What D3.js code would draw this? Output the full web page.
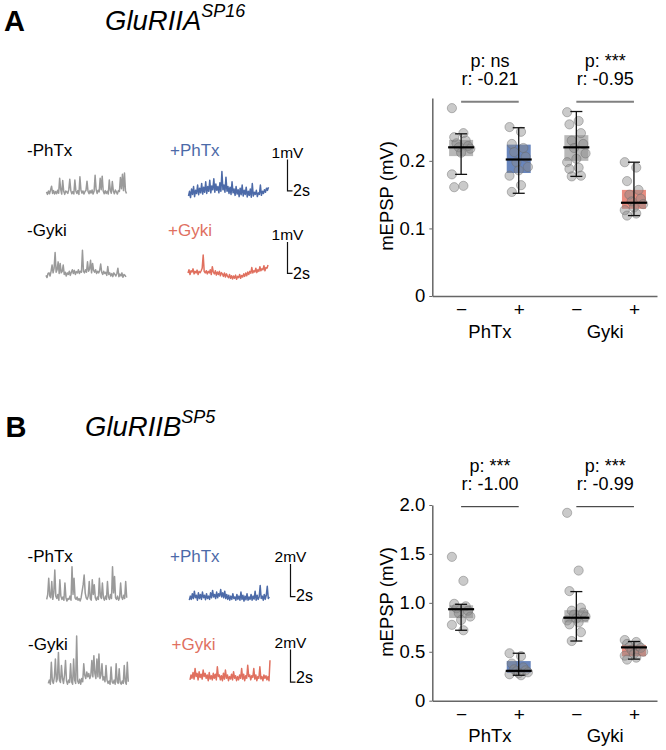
<!DOCTYPE html>
<html>
<head>
<meta charset="utf-8">
<script src="https://cdn.jsdelivr.net/npm/d3@7"></script>
<style>
  html, body { margin: 0; padding: 0; background: #fff; }
  svg { display: block; }
</style>
</head>
<body>
<svg id="chart" width="666" height="750"></svg>
<script>
// ---------------- DATA ----------------
const conditionLabels = ["\u2212", "+", "\u2212", "+"];
const groupLabels = ["PhTx", "Gyki"];

// Panel A (GluRIIA SP16), mEPSP in mV
const A_points = [
  [0.278, 0.241, 0.235, 0.230, 0.226, 0.222, 0.220, 0.218, 0.212, 0.180, 0.163, 0.161],
  [0.250, 0.243, 0.225, 0.219, 0.213, 0.206, 0.198, 0.191, 0.186, 0.178, 0.164, 0.154],
  [0.272, 0.259, 0.254, 0.241, 0.230, 0.225, 0.219, 0.211, 0.203, 0.198, 0.190, 0.188, 0.178, 0.177],
  [0.198, 0.190, 0.170, 0.157, 0.150, 0.144, 0.140, 0.136, 0.131, 0.127, 0.122, 0.119]
];
const A_q1  = [0.207, 0.182, 0.200, 0.129];
const A_med = [0.220, 0.202, 0.220, 0.138];
const A_q3  = [0.231, 0.224, 0.238, 0.157];
const A_wlo = [0.180, 0.152, 0.177, 0.119];
const A_whi = [0.240, 0.249, 0.273, 0.198];
const A_ticks = [0, 0.1, 0.2];
const A_tickLabels = ["0", "0.1", "0.2"];
const A_stats = [["p: ns", "r: -0.21"], ["p: ***", "r: -0.95"]];

// Panel B (GluRIIB SP5)
const B_points = [
  [1.47, 1.225, 0.99, 0.965, 0.945, 0.92, 0.895, 0.86, 0.825, 0.775, 0.72],
  [0.485, 0.455, 0.38, 0.34, 0.32, 0.31, 0.30, 0.29, 0.28, 0.27, 0.26],
  [1.92, 1.33, 1.12, 0.95, 0.92, 0.90, 0.88, 0.86, 0.84, 0.82, 0.80, 0.78, 0.70, 0.61],
  [0.62, 0.60, 0.58, 0.56, 0.55, 0.54, 0.52, 0.50, 0.48, 0.46, 0.44, 0.42]
];
const B_q1  = [0.845, 0.285, 0.800, 0.455];
const B_med = [0.935, 0.305, 0.848, 0.545];
const B_q3  = [0.975, 0.405, 0.925, 0.570];
const B_wlo = [0.720, 0.260, 0.610, 0.425];
const B_whi = [0.985, 0.485, 1.115, 0.605];
const B_ticks = [0, 0.5, 1.0, 1.5, 2.0];
const B_tickLabels = ["0", "0.5", "1.0", "1.5", "2.0"];
const B_stats = [["p: ***", "r: -1.00"], ["p: ***", "r: -0.99"]];

// Example traces (mV, one sample per step)
const traceA_minusPhTx = [0.02,-0.06,0.05,-0.04,0.08,0.20,-0.03,0.06,-0.05,0.03,
 -0.04,0.07,-0.02,0.45,0.10,-0.05,0.38,0.04,-0.06,0.05,
 0.02,-0.03,0.09,0.42,0.06,-0.04,0.03,-0.05,0.40,0.05,
 -0.03,0.06,-0.06,0.50,0.08,-0.02,0.05,-0.05,0.03,0.07,
 0.36,0.04,-0.04,0.06,-0.02,0.08,-0.05,0.04,0.55,0.10,
 -0.03,0.07,0.02,0.45,0.09,0.52,0.05,-0.04,0.06,-0.03,
 0.04,-0.05,0.40,0.07,-0.02,0.35,0.05,-0.04,0.08,0.02,
 -0.05,0.06,0.03,0.48,0.12,0.58,0.06,0.62,0.05,-0.03];
const traceA_plusPhTx = [0.00,0.15,-0.05,0.22,0.05,0.30,-0.02,0.18,0.08,0.35,
 0.04,0.25,0.10,0.40,0.06,0.28,0.12,0.45,0.08,0.30,
 0.15,0.50,0.10,0.32,0.20,0.55,0.12,0.38,0.18,0.30,
 0.10,0.42,0.15,0.78,0.20,0.35,0.12,0.60,0.15,0.30,
 0.08,0.28,0.05,0.45,0.10,0.22,0.02,0.30,0.06,0.20,
 -0.02,0.25,0.04,0.35,0.00,0.18,0.05,0.28,-0.03,0.15,
 0.02,0.22,-0.04,0.40,0.00,0.12,0.05,0.18,-0.02,0.10,
 0.05,0.35,0.02,0.15,0.08,0.20,0.12,0.25,0.18,0.28];
const traceA_minusGyki = [0.02,-0.05,0.08,0.10,0.00,0.15,0.35,0.10,0.25,0.75,
 0.12,0.20,0.45,0.08,0.40,0.10,0.15,0.35,0.05,0.12,
 0.00,0.10,0.05,0.15,0.02,0.12,0.20,0.08,0.18,0.05,
 0.14,0.10,0.20,0.08,0.15,0.12,0.82,0.15,0.10,0.20,
 0.12,0.45,0.15,0.22,0.50,0.10,0.40,0.18,0.12,0.20,
 0.08,0.15,0.10,0.18,0.38,0.12,0.05,0.15,0.08,0.12,
 0.02,0.30,0.05,0.10,0.00,0.08,-0.02,0.10,0.05,0.00,
 0.08,0.25,-0.02,0.06,0.00,0.10,-0.04,0.05,0.02,-0.03];
const traceA_plusGyki = [0.05,0.15,0.00,0.12,0.08,0.18,0.02,0.10,0.05,0.14,
 0.00,0.10,0.06,0.12,0.20,0.62,0.10,0.05,0.12,0.02,
 0.10,0.05,0.15,0.00,0.25,0.08,0.02,0.12,-0.02,0.08,
 0.00,0.10,-0.04,0.06,0.02,-0.06,0.05,-0.08,0.02,-0.05,
 -0.10,0.00,-0.12,-0.04,-0.14,-0.05,-0.12,-0.02,-0.15,-0.06,
 -0.10,0.00,-0.12,-0.03,-0.08,0.02,-0.06,0.05,-0.04,0.08,
 0.00,0.10,0.04,0.22,0.05,0.12,0.08,0.20,0.06,0.15,
 0.10,0.25,0.12,0.18,0.15,0.28,0.12,0.22,0.20,0.30];
const traceB_minusPhTx = [0.10,0.40,1.40,0.30,0.20,1.20,0.10,0.50,1.90,0.30,
 0.15,0.40,0.05,1.30,0.30,0.10,0.25,0.05,1.10,0.20,
 0.00,0.15,0.10,0.30,0.05,2.10,0.40,1.40,0.20,0.10,
 0.25,0.05,0.15,0.00,0.20,0.60,1.00,1.60,0.50,0.20,
 0.10,0.30,1.20,0.15,0.05,1.30,0.40,1.00,0.20,0.05,
 0.25,0.10,1.40,0.30,0.15,1.10,0.20,0.05,0.30,0.10,
 1.20,0.25,0.10,0.40,0.15,2.10,0.50,1.50,0.20,0.10,
 0.30,0.05,0.20,1.10,0.25,0.10,0.35,0.15,1.20,0.20];
const traceB_plusPhTx = [0.05,0.30,0.10,0.45,0.15,0.60,0.20,0.35,0.05,0.50,
 0.15,0.40,0.10,0.55,0.20,0.35,0.08,0.45,0.15,0.30,
 0.10,0.50,0.20,0.65,0.25,0.40,0.15,0.55,0.20,0.45,
 0.30,0.70,0.25,0.50,0.20,0.60,0.15,0.40,0.10,0.35,
 0.05,0.30,0.10,0.45,0.15,0.25,0.05,0.40,0.10,0.30,
 0.05,0.55,0.10,0.35,0.00,0.30,0.08,0.45,0.05,0.25,
 0.10,0.40,0.05,0.30,0.12,0.60,0.05,0.35,0.10,0.25,
 0.95,0.15,0.30,0.05,0.40,0.10,0.35,0.90,0.15,0.25];
const traceB_minusGyki = [0.10,0.30,0.05,1.40,0.25,0.10,0.50,1.60,0.20,0.40,
 2.00,0.30,0.15,1.20,0.40,0.10,0.60,1.50,0.25,0.05,
 0.30,0.15,1.30,0.20,0.05,1.60,0.30,0.10,3.00,0.25,
 0.10,0.35,0.05,0.40,0.20,1.30,0.60,0.40,0.80,0.50,
 0.70,0.40,0.60,1.50,0.50,1.80,0.70,0.40,1.60,0.50,
 1.90,0.40,0.60,1.30,0.30,0.50,0.20,1.20,0.30,0.10,
 0.25,0.05,1.10,0.20,0.10,0.30,0.05,1.30,0.20,0.10,
 1.00,0.15,0.05,0.25,0.10,1.20,0.20,0.05,1.40,0.20];
const traceB_plusGyki = [0.10,0.40,0.20,0.55,0.15,0.80,0.30,0.50,0.10,0.60,
 0.25,0.45,0.15,0.70,0.30,0.50,0.20,0.40,0.05,0.55,
 0.15,0.35,0.10,0.50,0.20,0.45,0.10,0.90,0.30,0.40,
 0.10,0.35,0.05,0.50,0.15,0.70,0.20,0.40,0.05,0.30,
 0.15,0.45,0.10,0.60,0.20,0.35,0.05,0.30,0.10,0.40,
 0.20,0.80,0.15,0.45,0.05,0.35,0.20,1.00,0.30,0.40,
 0.10,0.35,0.25,0.80,0.15,0.40,0.05,0.30,0.20,0.90,
 0.15,0.30,0.05,0.40,0.20,0.35,0.10,0.30,0.05,1.30];

// ---------------- STYLE / LAYOUT ----------------
const FONT = "'Liberation Sans', Arial, Helvetica, sans-serif";
const GRAY = "#9a9a9a", BLUE = "#4c6aa8", RED = "#e0705f";
const boxFills = [["#9a9a9a", 0.7], ["#4468ad", 0.8], ["#9a9a9a", 0.7], ["#e0614f", 0.72]];

const svg = d3.select("#chart");

// ---------- Titles ----------
function title(letter, gene, sup, lx, x, baseline) {
  svg.append("text").attr("x", lx).attr("y", baseline + 1.5)
    .attr("font-family", FONT).attr("font-weight", "bold").attr("font-size", 29)
    .text(letter);
  const t = svg.append("text").attr("x", x).attr("y", baseline)
    .attr("font-family", FONT).attr("font-style", "italic").attr("font-size", 27.5);
  t.append("tspan").text(gene);
  t.append("tspan").attr("font-size", 18).attr("dy", -12.3).text(sup);
}
title("A", "GluRIIA", "SP16", 4, 105, 29.5);
title("B", "GluRIIB", "SP5", 5.5, 85, 435.5);

// ---------- Traces ----------
function trace(values, x0, baseline, pxPerMv, color) {
  const x = d3.scaleLinear().domain([0, values.length - 1]).range([x0, x0 + 80]);
  const y = d3.scaleLinear().domain([0, 1]).range([baseline, baseline - pxPerMv]);
  svg.append("path")
    .attr("d", d3.line().x((d, i) => x(i)).y(d => y(d))(values))
    .attr("fill", "none").attr("stroke", color).attr("stroke-width", 1.5)
    .attr("stroke-linejoin", "round");
}
function label(txt, x, y, color) {
  svg.append("text").attr("x", x).attr("y", y).attr("font-family", FONT)
    .attr("font-size", 17).attr("fill", color).text(txt);
}
function scaleBar(mvText, x, top, len, sBaseline) {
  svg.append("text").attr("x", x).attr("y", top - 2).attr("text-anchor", "middle")
    .attr("font-family", FONT).attr("font-size", 15.5).text(mvText);
  svg.append("path")
    .attr("d", `M${x},${top}V${top + len}H${x + 5}`)
    .attr("fill", "none").attr("stroke", "#111").attr("stroke-width", 1.2);
  svg.append("text").attr("x", x + 5.5).attr("y", sBaseline)
    .attr("font-family", FONT).attr("font-size", 16).text("2s");
}

// Panel A traces (1 mV ≈ 31.4 px)
const pA = 31.4;
label("-PhTx", 27, 156, "#000");
label("+PhTx", 170, 156, BLUE);
trace(traceA_minusPhTx, 46.5, 192.5, pA, GRAY);
trace(traceA_plusPhTx, 188.5, 196, pA, BLUE);
scaleBar("1mV", 287.5, 159.5, pA, 196);
label("-Gyki", 27, 236, "#000");
label("+Gyki", 168, 236, RED);
trace(traceA_minusGyki, 46, 276, pA, GRAY);
trace(traceA_plusGyki, 188, 274.5, pA, RED);
scaleBar("1mV", 287.5, 242, pA, 278.5);

// Panel B traces (1 mV ≈ 16.3 px)
const pB = 16.3;
label("-PhTx", 27.5, 561.5, "#000");
label("+PhTx", 170, 561.5, BLUE);
trace(traceB_minusPhTx, 46.7, 601, pB, GRAY);
trace(traceB_plusPhTx, 189.3, 601, pB, BLUE);
scaleBar("2mV", 290.5, 564, 2 * pB, 600.5);
label("-Gyki", 28, 650, "#000");
label("+Gyki", 171.5, 650, RED);
trace(traceB_minusGyki, 48.3, 685, pB, GRAY);
trace(traceB_plusGyki, 190, 681.5, pB, RED);
scaleBar("2mV", 290.5, 649.5, 2 * pB, 683);

// ---------- Box plots ----------
function boxPanel(cfg) {
  const g = svg.append("g");
  const x = d3.scaleLinear().domain([-0.5, 3.4]).range([432.3, 657]);
  const y = d3.scaleLinear().domain(cfg.domain).range([cfg.y0, cfg.yTop]);

  // y axis
  const ya = g.append("g").attr("transform", "translate(432.3,0)")
    .call(d3.axisLeft(y).tickValues(cfg.ticks).tickFormat((d, i) => cfg.tickLabels[i])
      .tickSize(3).tickSizeOuter(0).tickPadding(4));
  ya.select(".domain").attr("stroke", "#666").attr("stroke-width", 1.5);
  ya.selectAll(".tick line").attr("stroke", "#666");
  ya.selectAll("text").attr("font-family", FONT).attr("font-size", 18.5).attr("fill", "#000");

  // x axis
  const xa = g.append("g").attr("transform", `translate(0,${cfg.y0})`)
    .call(d3.axisBottom(x).tickValues([0, 1, 2, 3]).tickFormat((d, i) => conditionLabels[i])
      .tickSize(0).tickSizeOuter(0).tickPadding(6.5));
  xa.select(".domain").attr("stroke", "#666").attr("stroke-width", 1.5);
  xa.selectAll("text").attr("font-family", FONT).attr("font-size", 19).attr("fill", "#000");

  // group labels
  groupLabels.forEach((lab, k) => {
    g.append("text").attr("x", (x(2 * k) + x(2 * k + 1)) / 2).attr("y", cfg.y0 + 41.5)
      .attr("text-anchor", "middle").attr("font-family", FONT).attr("font-size", 18.5)
      .text(lab);
  });

  // y label
  g.append("text").attr("transform", `translate(393,${cfg.labelY}) rotate(-90)`)
    .attr("text-anchor", "middle").attr("font-family", FONT).attr("font-size", 18.5)
    .text("mEPSP (mV)");

  const bw = 24;
  // boxes
  cfg.q1.forEach((q, i) => {
    g.append("rect").attr("x", x(i) - bw / 2).attr("width", bw)
      .attr("y", y(cfg.q3[i])).attr("height", y(q) - y(cfg.q3[i]))
      .attr("fill", boxFills[i][0]).attr("fill-opacity", boxFills[i][1]);
  });
  // points
  const jit = j => ((j * 5) % 9 - 4) * 2.3;
  cfg.points.forEach((arr, i) => {
    g.selectAll(null).data(arr).join("circle")
      .attr("cx", (d, j) => x(i) + jit(j)).attr("cy", d => y(d)).attr("r", 4.6)
      .attr("fill", "#8a8a8a").attr("fill-opacity", 0.45)
      .attr("stroke", "#6a6a6a").attr("stroke-opacity", 0.55).attr("stroke-width", 0.8);
  });
  // whiskers + median
  cfg.q1.forEach((q, i) => {
    const cx = x(i);
    g.append("line").attr("x1", cx).attr("x2", cx).attr("y1", y(cfg.wlo[i])).attr("y2", y(cfg.whi[i]))
      .attr("stroke", "#111").attr("stroke-width", 1.3);
    [cfg.wlo[i], cfg.whi[i]].forEach(v => {
      g.append("line").attr("x1", cx - 6).attr("x2", cx + 6).attr("y1", y(v)).attr("y2", y(v))
        .attr("stroke", "#111").attr("stroke-width", 1.3);
    });
    g.append("line").attr("x1", cx - 13).attr("x2", cx + 13).attr("y1", y(cfg.med[i])).attr("y2", y(cfg.med[i]))
      .attr("stroke", "#000").attr("stroke-width", 2.2);
  });

  // stats annotations
  cfg.stats.forEach((s, k) => {
    const x1 = x(2 * k), x2 = x(2 * k + 1), cx = (x1 + x2) / 2;
    g.append("line").attr("x1", x1).attr("x2", x2).attr("y1", cfg.barY).attr("y2", cfg.barY)
      .attr("stroke", cfg.barColor).attr("stroke-width", cfg.barWidth);
    g.append("text").attr("x", cx).attr("y", cfg.barY - 35).attr("text-anchor", "middle")
      .attr("font-family", FONT).attr("font-size", 18).text(s[0]);
    g.append("text").attr("x", cx).attr("y", cfg.barY - 16.5).attr("text-anchor", "middle")
      .attr("font-family", FONT).attr("font-size", 18).text(s[1]);
  });
}

boxPanel({
  domain: [0, 0.293], y0: 296, yTop: 98, ticks: A_ticks, tickLabels: A_tickLabels,
  q1: A_q1, med: A_med, q3: A_q3, wlo: A_wlo, whi: A_whi, points: A_points,
  stats: A_stats, barY: 101.7, barColor: "#808080", barWidth: 2, labelY: 196
});
boxPanel({
  domain: [0, 2.0], y0: 700.7, yTop: 505, ticks: B_ticks, tickLabels: B_tickLabels,
  q1: B_q1, med: B_med, q3: B_q3, wlo: B_wlo, whi: B_whi, points: B_points,
  stats: B_stats, barY: 506.7, barColor: "#222", barWidth: 1, labelY: 602
});
</script>
</body>
</html>
